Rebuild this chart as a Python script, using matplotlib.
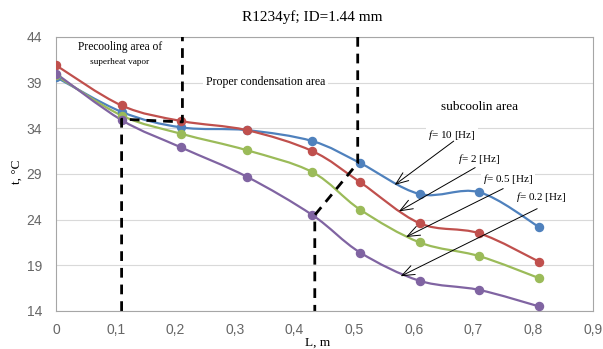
import matplotlib
matplotlib.use('Agg')
import matplotlib.pyplot as plt
import numpy as np
from matplotlib.path import Path
from matplotlib.patches import PathPatch

plt.rcParams['mathtext.fontset'] = 'custom'
plt.rcParams['mathtext.it'] = 'Liberation Serif:italic'
plt.rcParams['mathtext.rm'] = 'Liberation Serif'

# data
L = [0, 0.11, 0.21, 0.32, 0.43, 0.51, 0.61, 0.71, 0.81]
t_10hz = [39.6, 35.8, 34.1, 33.8, 32.6, 30.2, 26.8, 27.0, 23.2]
t_2hz = [40.9, 36.5, 34.8, 33.8, 31.5, 28.1, 23.6, 22.5, 19.4]
t_05hz = [39.8, 35.4, 33.4, 31.6, 29.2, 25.1, 21.5, 20.0, 17.6]
t_02hz = [40.0, 34.9, 31.9, 28.7, 24.5, 20.4, 17.3, 16.3, 14.5]

series = [(t_10hz, '#4F81BD'), (t_2hz, '#C0504D'),
          (t_05hz, '#9BBB59'), (t_02hz, '#8064A2')]

# boundary lines between the zones
zone1_x = [0.11, 0.11, 0.212, 0.212]
zone1_y = [14, 35.0, 34.7, 44]
zone2_x = [0.506, 0.506, 0.434, 0.434]
zone2_y = [44, 30.2, 24.5, 14]

# f labels: text position, arrow start, arrow tip
f_labels = ['10', '2', '0.5', '0.2']
f_text_xy = [(0.664, 33.3), (0.709, 30.6), (0.758, 28.5), (0.813, 26.45)]
f_start_xy = [(0.667, 32.6), (0.703, 29.7), (0.750, 27.4), (0.807, 25.2)]
f_tip_xy = [(0.568, 27.8), (0.575, 24.9), (0.587, 22.1), (0.578, 17.8)]

xticks = np.arange(0, 0.91, 0.1)
yticks = [14, 19, 24, 29, 34, 39, 44]


def smooth_path(x, y):
    # bezier segments through the points (catmull-rom style, like Excel smoothing)
    pts = np.column_stack([x, y])
    n = len(pts)
    verts = [pts[0]]
    codes = [Path.MOVETO]
    for i in range(n - 1):
        p0 = pts[i - 1] if i > 0 else pts[i]
        p1 = pts[i]
        p2 = pts[i + 1]
        p3 = pts[i + 2] if i + 2 < n else pts[i + 1]
        c1 = p1 + (p2 - p0) / 6.0
        c2 = p2 - (p3 - p1) / 6.0
        verts += [c1, c2, p2]
        codes += [Path.CURVE4] * 3
    return Path(verts, codes)


fig = plt.figure(figsize=(6.03, 3.49), dpi=100)
ax = fig.add_axes([0.0929, 0.109, 0.8899, 0.785])

for vals, col in series:
    ax.add_patch(PathPatch(smooth_path(L, vals), fill=False, edgecolor=col,
                           lw=1.6, zorder=3))
    ax.plot(L, vals, 'o', color=col, ms=5.8, zorder=4)

ax.plot(zone1_x, zone1_y, color='black', lw=2, dashes=(3.5, 2.5), zorder=5)
ax.plot(zone2_x, zone2_y, color='black', lw=2, dashes=(3.5, 2.5), zorder=5)

ax.set_xlim(0, 0.9)
ax.set_ylim(14, 44)
ax.set_xticks(xticks)
ax.set_xticklabels([('%.1f' % v).replace('.', ',') if v > 0 else '0' for v in xticks])
ax.set_yticks(yticks)
ax.tick_params(length=0, labelsize=10, labelcolor='#666666')
ax.tick_params(axis='y', pad=10)
ax.tick_params(axis='x', pad=9)
for lab in ax.get_xticklabels() + ax.get_yticklabels():
    lab.set_family('Liberation Sans')
ax.grid(axis='y', color='#D9D9D9', lw=0.8)
ax.set_axisbelow(True)
for s in ax.spines.values():
    s.set_color('#A6A6A6')
    s.set_linewidth(0.8)

serif = 'Liberation Serif'
fig.text(0.517, 0.951, 'R1234yf; ID=1.44 mm', ha='center', va='center',
         family=serif, fontsize=11)
fig.text(0.526, 0.017, 'L, m', ha='center', va='center', family=serif, fontsize=9.5)
fig.text(0.028, 0.507, 't, \u00b0C', ha='center', va='center', rotation=90,
         family=serif, fontsize=9.5)

ax.text(0.107, 42.9, 'Precooling area of', ha='center', va='center',
        family=serif, fontsize=8.3)
ax.text(0.107, 41.3, 'superheat vapor', ha='center', va='center',
        family=serif, fontsize=6.7)
ax.text(0.352, 39.1, 'Proper condensation area', ha='center', va='center',
        family=serif, fontsize=8.5,
        bbox=dict(facecolor='white', edgecolor='none', pad=2))
ax.text(0.711, 36.3, 'subcoolin area', ha='center', va='center',
        family=serif, fontsize=9.5)

for lab, txy, sxy, pxy in zip(f_labels, f_text_xy, f_start_xy, f_tip_xy):
    ax.text(txy[0], txy[1], r'$\mathit{f}$= ' + lab + ' [Hz]', ha='center', va='center',
            family=serif, fontsize=8, zorder=6,
            bbox=dict(facecolor='white', edgecolor='none', pad=1.5))
    ax.annotate('', xy=pxy, xytext=sxy,
                arrowprops=dict(arrowstyle='->,head_length=0.9,head_width=0.35',
                                lw=0.7, color='black', mutation_scale=10,
                                shrinkA=0, shrinkB=0), zorder=6)

fig.savefig('out.png', dpi=100)
